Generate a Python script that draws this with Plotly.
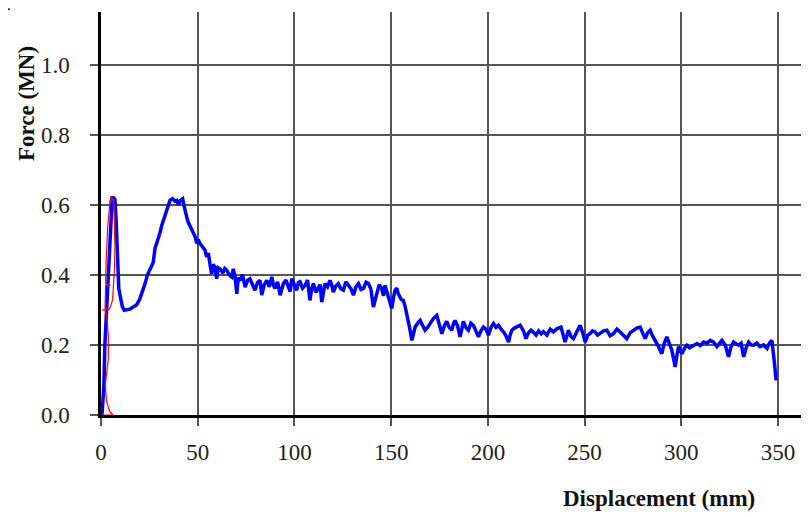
import plotly.graph_objects as go

# Blue curve: displacement (mm) and force (MN)
blue_x = [0.0, 0.5, 1.0, 1.5, 2.0, 2.5, 3.0, 3.8, 4.3, 5.0, 5.5, 5.8, 6.5, 7.2, 7.8, 8.1, 8.6, 9.2,
          10.2, 11.0, 12.0, 13.5, 15.0, 17.0, 18.4, 20.0, 21.0, 22.0, 22.8, 24.0, 25.3, 26.2, 27.0,
          27.9, 28.8, 29.6, 30.5, 31.4, 32.3, 33.1, 34.5, 35.7, 37.0, 38.3, 39.2, 40.0, 41.0, 42.2,
          42.8, 43.4, 44.3, 45.1, 46.5, 47.5, 48.6, 49.5, 50.3, 51.2, 52.5, 53.8, 54.6, 55.5, 56.3,
          57.2, 58.0, 58.9, 59.8, 60.6, 61.5, 63.0, 64.0, 65.0, 66.3, 67.6, 68.4, 69.3, 70.2, 71.0,
          71.9, 73.2, 74.5, 75.8, 77.0, 78.3, 79.6, 80.9, 82.2, 83.1, 84.4, 85.7, 87.0, 88.3, 89.2,
          90.0, 91.3, 92.6, 93.5, 94.3, 95.6, 96.9, 97.8, 98.6, 99.9, 101.2, 102.0, 102.9, 104.2,
          105.5, 106.8, 108.0, 108.9, 109.8, 111.1, 112.4, 113.3, 114.1, 115.0, 115.8, 117.1, 118.4,
          119.3, 120.1, 121.4, 122.7, 124.0, 125.3, 126.6, 127.9, 129.2, 130.5, 131.8, 133.1, 134.4,
          135.7, 137.0, 138.2, 139.5, 140.8, 141.7, 142.5, 143.8, 145.1, 146.0, 146.8, 147.7, 148.6,
          149.5, 150.3, 151.2, 152.0, 152.9, 153.7, 155.2, 156.3, 157.2, 158.1, 159.5, 160.7, 161.5,
          162.4, 163.7, 165.0, 166.3, 167.5, 168.8, 170.1, 171.8, 173.6, 174.9, 176.2, 177.5, 178.7,
          180.0, 181.3, 182.2, 183.0, 184.3, 185.6, 186.5, 187.3, 188.6, 189.9, 191.2, 192.5, 193.8,
          195.1, 196.4, 197.7, 199.0, 200.3, 201.6, 202.9, 204.2, 205.5, 206.8, 208.1, 209.4, 210.7,
          211.6, 212.4, 213.7, 215.0, 216.7, 218.4, 219.7, 221.0, 222.3, 223.6, 224.9, 226.2, 227.5,
          228.7, 230.5, 232.2, 233.9, 235.6, 237.8, 239.9, 240.8, 241.6, 242.9, 244.2, 246.0, 247.7,
          249.0, 250.3, 251.6, 252.8, 254.1, 255.4, 256.7, 258.0, 259.8, 261.5, 263.2, 264.9, 266.7,
          268.4, 270.1, 271.8, 273.6, 275.3, 277.0, 278.7, 280.0, 281.3, 282.6, 283.9, 285.2, 286.5,
          288.2, 289.9, 291.2, 292.5, 293.8, 295.1, 296.0, 296.8, 297.7, 298.6, 299.5, 300.3, 301.6,
          302.9, 304.2, 305.5, 306.8, 308.0, 309.8, 311.5, 313.3, 315.0, 316.7, 318.4, 319.7, 321.0,
          322.7, 324.4, 325.7, 327.0, 328.3, 329.6, 330.9, 332.2, 333.5, 334.8, 336.1, 337.4, 339.0,
          340.7, 342.5, 344.3, 345.5, 346.8, 348.0, 349.0, 349.7, 350.2]
blue_y = [0.000, 0.000, 0.040, 0.085, 0.200, 0.250, 0.300, 0.400, 0.460, 0.510, 0.580, 0.620, 0.620,
          0.615, 0.560, 0.510, 0.400, 0.360, 0.332, 0.310, 0.299, 0.300, 0.302, 0.310, 0.314, 0.330,
          0.345, 0.360, 0.375, 0.400, 0.413, 0.425, 0.435, 0.475, 0.490, 0.503, 0.520, 0.541, 0.555,
          0.570, 0.590, 0.613, 0.617, 0.610, 0.612, 0.600, 0.612, 0.617, 0.600, 0.580, 0.565, 0.550,
          0.535, 0.520, 0.510, 0.490, 0.500, 0.489, 0.478, 0.470, 0.451, 0.462, 0.432, 0.403, 0.430,
          0.422, 0.389, 0.420, 0.417, 0.405, 0.418, 0.413, 0.400, 0.394, 0.417, 0.395, 0.346, 0.392,
          0.384, 0.400, 0.365, 0.385, 0.389, 0.372, 0.356, 0.378, 0.384, 0.342, 0.372, 0.384, 0.366,
          0.394, 0.370, 0.361, 0.380, 0.342, 0.360, 0.375, 0.385, 0.361, 0.352, 0.389, 0.370, 0.356,
          0.378, 0.380, 0.362, 0.370, 0.385, 0.327, 0.360, 0.375, 0.350, 0.361, 0.372, 0.322, 0.360,
          0.375, 0.366, 0.384, 0.370, 0.351, 0.368, 0.375, 0.360, 0.356, 0.380, 0.370, 0.360, 0.342,
          0.366, 0.375, 0.358, 0.361, 0.379, 0.375, 0.360, 0.308, 0.330, 0.346, 0.372, 0.361, 0.340,
          0.370, 0.355, 0.337, 0.320, 0.304, 0.335, 0.356, 0.362, 0.346, 0.330, 0.327, 0.310, 0.289,
          0.250, 0.213, 0.235, 0.251, 0.262, 0.270, 0.255, 0.242, 0.250, 0.261, 0.275, 0.284, 0.262,
          0.232, 0.255, 0.267, 0.250, 0.242, 0.260, 0.270, 0.255, 0.223, 0.245, 0.267, 0.250, 0.242,
          0.262, 0.256, 0.240, 0.223, 0.240, 0.251, 0.245, 0.228, 0.250, 0.261, 0.250, 0.256, 0.245,
          0.237, 0.225, 0.208, 0.230, 0.242, 0.248, 0.251, 0.256, 0.240, 0.218, 0.235, 0.242, 0.236,
          0.228, 0.240, 0.232, 0.238, 0.228, 0.245, 0.237, 0.246, 0.251, 0.208, 0.232, 0.242, 0.225,
          0.218, 0.238, 0.256, 0.235, 0.208, 0.228, 0.232, 0.240, 0.237, 0.228, 0.232, 0.240, 0.242,
          0.226, 0.232, 0.245, 0.237, 0.228, 0.218, 0.235, 0.242, 0.248, 0.251, 0.232, 0.218, 0.235,
          0.242, 0.225, 0.213, 0.195, 0.175, 0.205, 0.223, 0.200, 0.185, 0.160, 0.137, 0.170, 0.195,
          0.185, 0.175, 0.190, 0.199, 0.192, 0.195, 0.200, 0.204, 0.198, 0.208, 0.205, 0.213, 0.208,
          0.195, 0.205, 0.213, 0.200, 0.166, 0.195, 0.208, 0.203, 0.199, 0.205, 0.166, 0.192, 0.208,
          0.200, 0.199, 0.205, 0.195, 0.200, 0.190, 0.205, 0.213, 0.156, 0.099]

# Red curve (thin loop near the origin)
red_x = [-4.6, 6.2, 4.5, 2.9, 2.2, 3.0, 3.8, 3.8, 3.4, 3.0, 2.1, 0.5, 4.2, 2.1, 2.4, 4.9, 2.4,
         2.6, 2.9, 3.4, 4.0, 4.6, 5.2, 6.0, 6.7, 7.0, 7.2, 7.0, 6.6, 6.0, 5.0, 4.0, 3.0]
red_y = [0.000, 0.000, 0.010, 0.038, 0.085, 0.130, 0.161, 0.227, 0.260, 0.280, 0.300, 0.300, 0.300,
         0.305, 0.370, 0.370, 0.375, 0.430, 0.484, 0.530, 0.570, 0.610, 0.620, 0.620, 0.600, 0.540,
         0.480, 0.420, 0.370, 0.330, 0.310, 0.300, 0.300]

x_ticks = [0, 50, 100, 150, 200, 250, 300, 350]
y_ticks = [0.0, 0.2, 0.4, 0.6, 0.8, 1.0]
y_tick_text = ["0.0", "0.2", "0.4", "0.6", "0.8", "1.0"]

serif = "Liberation Serif"

fig = go.Figure()
fig.add_trace(go.Scatter(x=blue_x, y=blue_y, mode="lines",
                         line=dict(color="#0000FF", width=3.5), showlegend=False))
fig.add_trace(go.Scatter(x=red_x, y=red_y, mode="lines",
                         line=dict(color="#FF0000", width=1.2), showlegend=False))

fig.update_layout(
    width=801, height=509,
    margin=dict(l=93, r=0, t=4, b=102, autoexpand=False),
    paper_bgcolor="white", plot_bgcolor="white",
    font=dict(family=serif, size=23, color="#222222"),
    xaxis=dict(range=[0, 366], tickvals=x_ticks, showgrid=True, gridcolor="#555555",
               gridwidth=1.5, zeroline=False, showline=True, linecolor="black", linewidth=2.5,
               ticks="outside", ticklen=8, tickwidth=1.5, tickcolor="#555555",
               ticklabelstandoff=7, automargin=False,
               tickfont=dict(family=serif, size=23, color="#222222")),
    yaxis=dict(range=[0, 1.15], tickvals=y_ticks, ticktext=y_tick_text, showgrid=True,
               gridcolor="#555555", gridwidth=1.5, zeroline=False, showline=True,
               linecolor="black", linewidth=2.5, ticks="outside", ticklen=8, tickwidth=1.5,
               tickcolor="#555555", ticklabelstandoff=16, automargin=False,
               tickfont=dict(family=serif, size=23, color="#222222")),
    annotations=[
        dict(text="<b>Force (MN)</b>", xref="paper", yref="paper", x=-0.106, y=0.774,
             xanchor="center", yanchor="middle", textangle=-90, showarrow=False,
             font=dict(family=serif, size=23, color="#111111")),
        dict(text="<b>Displacement (mm)</b>", xref="paper", yref="paper", x=0.788, y=-0.208,
             xanchor="center", yanchor="middle", showarrow=False,
             font=dict(family=serif, size=23, color="#111111")),
    ],
    shapes=[
        dict(type="circle", xref="paper", yref="paper", x0=-0.1314, x1=-0.1286,
             y0=1.0045, y1=1.0095, fillcolor="#111111", line=dict(width=0)),
    ],
)

fig.write_html("out.html")
